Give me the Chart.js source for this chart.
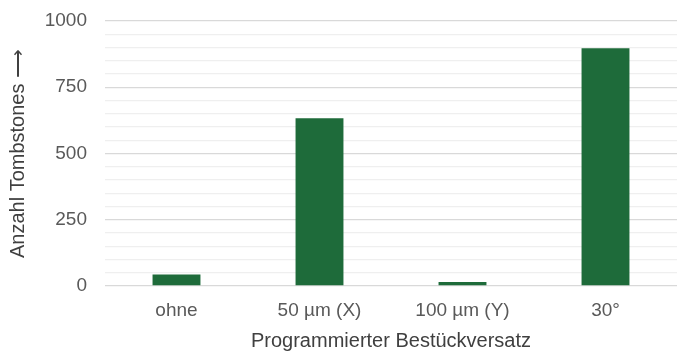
<!DOCTYPE html>
<html>
<head>
<meta charset="utf-8">
<script src="https://cdn.jsdelivr.net/npm/chart.js@4"></script>
<style>
  html, body { margin: 0; padding: 0; background: #fff; }
</style>
</head>
<body>
<canvas id="tombstones" width="678" height="353"></canvas>
<script>
const categories = ['ohne', '50 µm (X)', '100 µm (Y)', '30°'];
const tombstones = [43, 633, 15, 897];
const yTickLabels = [0, 250, 500, 750, 1000];
const yGridStep = 50;

const barGreen = '#1e6b3a';
const tickGrey = '#595959';
const titleGrey = '#404040';
const fontFamily = '"Liberation Sans", Arial, sans-serif';

new Chart(document.getElementById('tombstones').getContext('2d'), {
  type: 'bar',
  data: {
    labels: categories,
    datasets: [{
      data: tombstones,
      backgroundColor: barGreen,
      borderWidth: 0,
      categoryPercentage: 1,
      barPercentage: 0.335
    }]
  },
  options: {
    responsive: false,
    animation: false,
    layout: {
      padding: { top: 21, right: 1, bottom: 0, left: 0 }
    },
    scales: {
      x: {
        grid: { display: false, drawTicks: false },
        border: { display: false },
        ticks: {
          color: tickGrey,
          font: { family: fontFamily, size: 19 },
          padding: 13,
          maxRotation: 0
        },
        title: {
          display: true,
          text: 'Programmierter Bestückversatz',
          color: titleGrey,
          font: { family: fontFamily, size: 20 },
          padding: 0
        },
        afterFit: scale => { scale.height = 67; }
      },
      y: {
        min: 0,
        max: 1000,
        grid: {
          drawTicks: false,
          color: ctx => yTickLabels.includes(ctx.tick.value) ? '#d9d9d9' : '#efefef',
          lineWidth: 1.3
        },
        border: { display: false },
        ticks: {
          stepSize: yGridStep,
          autoSkip: false,
          color: tickGrey,
          font: { family: fontFamily, size: 19 },
          padding: 18,
          callback: v => yTickLabels.includes(v) ? String(v) : ''
        },
        title: {
          display: true,
          text: 'Anzahl Tombstones ⟶',
          color: titleGrey,
          font: { family: fontFamily, size: 20 },
          padding: { top: 6, bottom: 0 }
        },
        afterFit: scale => {
          scale.width = 105;
          scale.paddingTop = 0;
          scale.paddingBottom = 0;
        }
      }
    },
    plugins: {
      legend: { display: false },
      tooltip: { enabled: false }
    }
  }
});
</script>
</body>
</html>
